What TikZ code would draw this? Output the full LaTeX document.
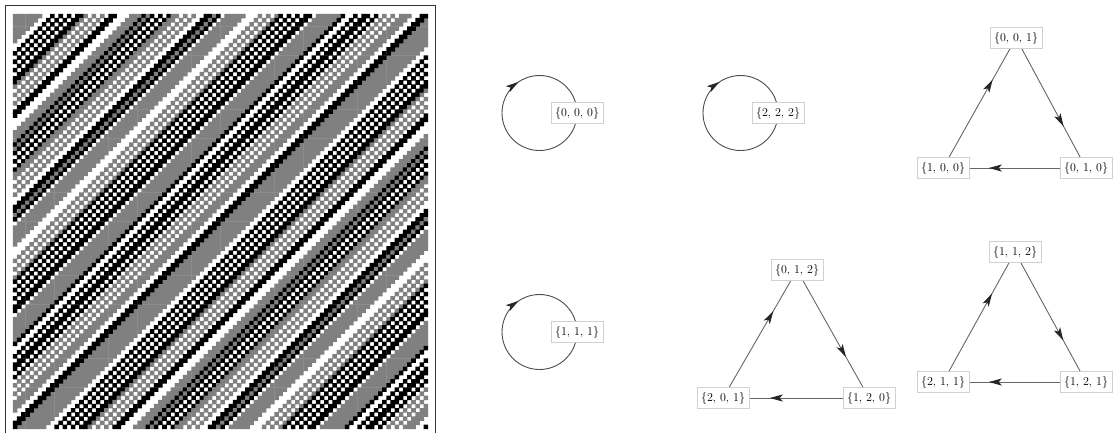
\documentclass[tikz,border=0pt]{standalone}
\usepackage{tikz}
\usetikzlibrary{arrows.meta,decorations.markings,backgrounds}

\colorlet{ca1}{black!50}
\colorlet{ca2}{black}
\colorlet{boxline}{black!18}
\colorlet{edgeline}{black!60}

\tikzset{
  state/.style={draw=boxline, fill=white, line width=0.8pt, inner xsep=4pt,
    minimum height=21pt, font=\fontsize{12}{14}\selectfont},
  trans/.style={draw=edgeline, line width=0.9pt, postaction={decorate},
    decoration={markings, mark=at position #1 with
      {\arrow{Stealth[length=13pt,width=7pt,inset=3pt,color=black!85]}}}},
  trans/.default=0.68,
  selfloop/.style={trans=0.656, draw=black!70},
}

% initial row of the shift rule (0 white, 1 gray, 2 black)
\newcommand{\caseq}{1,1,1,1,1,1,1,0,0,2, 0,2,0,2,0,2,2,1,0,1,
  0,1,0,2,2,0,0,0,1,1, 1,2,1,2,0,2,0,2,1,1, 0,1,0,1,0,0,2,2,1,2,
  0,1,1,1,1,1,0,0,0,1, 0,1,0,1,2,0,2,0,2,0, 2,2,0,1,1,1,1,1,1,2,
  0,0,2,0,2,2,0,2,0,1, 0,1,0,1,1,1,0,0,2,2}

\begin{document}
\begin{tikzpicture}[x=1pt,y=1pt]
  \useasboundingbox (0,0) rectangle (1113,-432);

  % evolution
  \foreach \c [count=\k from 0] in \caseq {
    \ifnum\c>0
      \fill[ca\c] \foreach \t [evaluate=\t as \x using {mod(\k-\t+100,100)}] in {0,...,99}
        { (13+\x*4.15-0.2, -14-\t*4.15+0.2) rectangle ++(4.55,-4.55) };
    \fi
  }
  \draw[line width=0.8pt, black!80] (5,-5) rectangle (435,-438);

  % fixed points
  \node[state] (s000) at (577,-113) {\{0, 0, 0\}};
  \node[state] (s222) at (778,-113) {\{2, 2, 2\}};
  \node[state] (s111) at (577,-332) {\{1, 1, 1\}};

  % cycles of length 3
  \node[state] (s001) at (1016,-38) {\{0, 0, 1\}};
  \node[state] (s100) at (943,-168) {\{1, 0, 0\}};
  \node[state] (s010) at (1086,-168) {\{0, 1, 0\}};

  \node[state] (s012) at (797,-270) {\{0, 1, 2\}};
  \node[state] (s201) at (723,-398) {\{2, 0, 1\}};
  \node[state] (s120) at (869,-398) {\{1, 2, 0\}};

  \node[state] (s112) at (1015,-252) {\{1, 1, 2\}};
  \node[state] (s211) at (943,-382) {\{2, 1, 1\}};
  \node[state] (s121) at (1086,-382) {\{1, 2, 1\}};

  \begin{scope}[on background layer]
    \draw[selfloop] (s000.center) arc[start angle=0, end angle=-360, radius=37.5pt];
    \draw[selfloop] (s222.center) arc[start angle=0, end angle=-360, radius=37.5pt];
    \draw[selfloop] (s111.center) arc[start angle=0, end angle=-360, radius=37.5pt];

    \draw[trans] (s001.center) -- (s010.center);
    \draw[trans] (s010.center) -- (s100.center);
    \draw[trans] (s100.center) -- (s001.center);

    \draw[trans] (s012.center) -- (s120.center);
    \draw[trans] (s120.center) -- (s201.center);
    \draw[trans] (s201.center) -- (s012.center);

    \draw[trans] (s112.center) -- (s121.center);
    \draw[trans] (s121.center) -- (s211.center);
    \draw[trans] (s211.center) -- (s112.center);
  \end{scope}
\end{tikzpicture}
\end{document}
